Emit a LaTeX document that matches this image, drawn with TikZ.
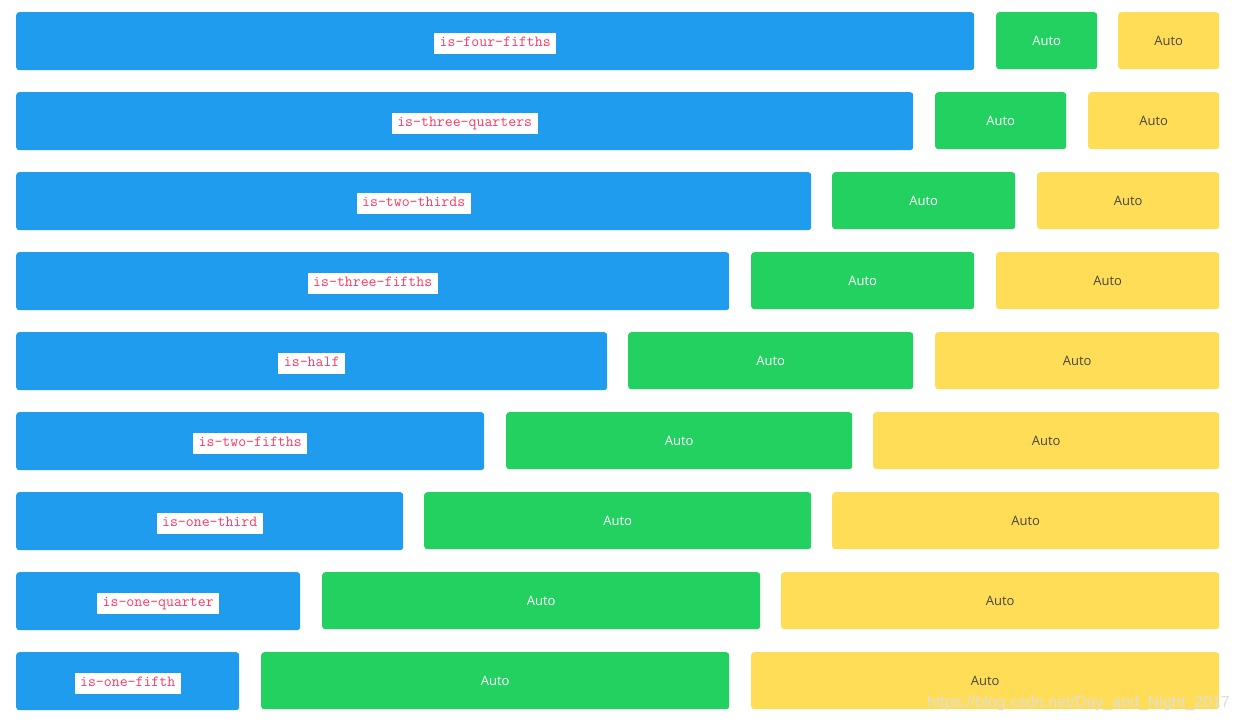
\documentclass[tikz,border=0pt]{standalone}
\usepackage{fontspec}
\setmainfont{Open Sans}
\newfontfamily\markfont{Liberation Sans}
\definecolor{infoblue}{HTML}{209CEE}
\definecolor{okgreen}{HTML}{23D160}
\definecolor{warnyellow}{HTML}{FFDD57}
\definecolor{tagred}{HTML}{FF3860}
\tikzset{
  col/.style={anchor=north west, rounded corners=3pt, inner sep=0pt, minimum height=57pt},
  info/.style={col, fill=infoblue, minimum height=58pt},
  ok/.style={col, fill=okgreen, text=white, font=\fontsize{13}{15}\selectfont},
  warn/.style={col, fill=warnyellow, text=black!72, font=\fontsize{13}{15}\selectfont},
  tag/.style={fill=white, text=tagred, inner xsep=5.5pt, inner ysep=0pt,
    minimum height=21pt, text height=9pt, text depth=2pt, yshift=-2pt,
    font=\ttfamily\fontsize{15.4}{17}\selectfont}
}
\begin{document}
\begin{tikzpicture}[x=1pt,y=-1pt]
  \useasboundingbox[fill=white] (0,0) rectangle (1240,721);
  % four fifths
  \node[info, minimum width=958pt] (b1) at (16,12) {};
  \node[ok, minimum width=101pt] (g1) at (996,12) {Auto};
  \node[warn, minimum width=101pt] (y1) at (1118,12) {Auto};
  \node[tag] (t1) at (b1) {is-four-fifths};
  % three quarters
  \node[info, minimum width=897pt] (b2) at (16,92) {};
  \node[ok, minimum width=131pt] (g2) at (935,92) {Auto};
  \node[warn, minimum width=131pt] (y2) at (1088,92) {Auto};
  \node[tag] (t2) at (b2) {is-three-quarters};
  % two thirds
  \node[info, minimum width=795pt] (b3) at (16,172) {};
  \node[ok, minimum width=183pt] (g3) at (832,172) {Auto};
  \node[warn, minimum width=182pt] (y3) at (1037,172) {Auto};
  \node[tag] (t3) at (b3) {is-two-thirds};
  % three fifths
  \node[info, minimum width=713pt] (b4) at (16,252) {};
  \node[ok, minimum width=223pt] (g4) at (751,252) {Auto};
  \node[warn, minimum width=223pt] (y4) at (996,252) {Auto};
  \node[tag] (t4) at (b4) {is-three-fifths};
  % half
  \node[info, minimum width=591pt] (b5) at (16,332) {};
  \node[ok, minimum width=285pt] (g5) at (628,332) {Auto};
  \node[warn, minimum width=284pt] (y5) at (935,332) {Auto};
  \node[tag] (t5) at (b5) {is-half};
  % two fifths
  \node[info, minimum width=468pt] (b6) at (16,412) {};
  \node[ok, minimum width=346pt] (g6) at (506,412) {Auto};
  \node[warn, minimum width=346pt] (y6) at (873,412) {Auto};
  \node[tag] (t6) at (b6) {is-two-fifths};
  % one third
  \node[info, minimum width=387pt] (b7) at (16,492) {};
  \node[ok, minimum width=387pt] (g7) at (424,492) {Auto};
  \node[warn, minimum width=387pt] (y7) at (832,492) {Auto};
  \node[tag] (t7) at (b7) {is-one-third};
  % one quarter
  \node[info, minimum width=284pt] (b8) at (16,572) {};
  \node[ok, minimum width=438pt] (g8) at (322,572) {Auto};
  \node[warn, minimum width=438pt] (y8) at (781,572) {Auto};
  \node[tag] (t8) at (b8) {is-one-quarter};
  % one fifth
  \node[info, minimum width=223pt] (b9) at (16,652) {};
  \node[ok, minimum width=468pt] (g9) at (261,652) {Auto};
  \node[warn, minimum width=468pt] (y9) at (751,652) {Auto};
  \node[tag] (t9) at (b9) {is-one-fifth};
  %\node (mark) at (1075,702) {};
  \node[anchor=base east, inner sep=0pt, text=black!13,
    font=\markfont\fontsize{16}{18}\selectfont] (url) at (1230,707)
    {https://blog.csdn.net/Day\_and\_Night\_2017};
\end{tikzpicture}
\end{document}
